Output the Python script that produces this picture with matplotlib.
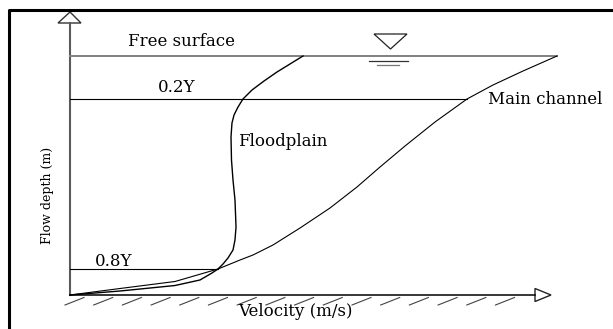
import matplotlib
matplotlib.use("Agg")
import matplotlib.pyplot as plt
from matplotlib.patches import Polygon

# ---- data (normalised velocity v, normalised depth d: bed=0, free surface=1) ----
main_v = [0.0, 0.1027, 0.2156, 0.3039, 0.3491, 0.3758, 0.4168, 0.4723, 0.5339,
          0.5893, 0.6366, 0.6879, 0.7495, 0.8152, 0.8686, 0.9302, 1.0]
main_d = [0.0, 0.0272, 0.0565, 0.1088, 0.1464, 0.1674, 0.2092, 0.2803, 0.3640,
          0.4519, 0.5356, 0.6234, 0.7238, 0.8201, 0.8787, 0.9372, 1.0]

flood_v = [0.0, 0.1027, 0.2156, 0.2669, 0.2916, 0.3039, 0.3142, 0.3244, 0.3347,
           0.3388, 0.3409, 0.3388, 0.3347, 0.3316, 0.3306, 0.3326, 0.3368,
           0.3450, 0.3552, 0.3737, 0.3984, 0.4251, 0.4517, 0.4784]
flood_d = [0.0, 0.0167, 0.0397, 0.0628, 0.0921, 0.1088, 0.1297, 0.1548, 0.1883,
           0.2301, 0.2845, 0.3975, 0.4812, 0.5649, 0.6611, 0.7197, 0.7531,
           0.7866, 0.8201, 0.8577, 0.8954, 0.9331, 0.9665, 1.0]

level_names = ["Free surface", "0.2Y", "0.8Y"]
level_depth = [1.0, 0.8201, 0.1088]
level_end_v = [1.0, 0.8152, 0.3039]

W, H = 613, 329
fig = plt.figure(figsize=(W / 100, H / 100), dpi=100)

# pixel-space axes for decorations
pax = fig.add_axes([0, 0, 1, 1])
pax.set_xlim(0, W)
pax.set_ylim(H, 0)
pax.axis("off")

# data axes aligned with the drawing (v=0 at x=70px, v=1 at x=557px; d=0 at y=295px, d=1 at y=56px)
ax = fig.add_axes([0, 0, 1, 1])
ax.patch.set_alpha(0)
ax.set_xlim(-70 / 487, 543 / 487)
ax.set_ylim(-34 / 239, 295 / 239)
ax.axis("off")

serif = "DejaVu Serif"
fs = 12

# frame (left + top)
pax.plot([8.5, 8.5, W], [H, 10, 10], color="black", lw=2.2, solid_capstyle="butt")

# y axis with open arrow
pax.plot([70, 70], [295, 23], color="#5a5a5a", lw=1.5)
pax.add_patch(Polygon([[58, 23], [81, 23], [70, 12]], closed=True, fill=False,
                      edgecolor="#333333", lw=1.0))
# x axis with open arrow
pax.plot([70, 535], [295, 295], color="black", lw=1.1)
pax.add_patch(Polygon([[535, 288.5], [535, 301.5], [551, 295]], closed=True, fill=False,
                      edgecolor="#222222", lw=1.0))

# bed hatching
for k in range(16):
    x0 = 65 + 28.7 * k
    pax.plot([x0, x0 + 19], [305, 297.5], color="#444444", lw=0.8)

# water surface symbol
pax.add_patch(Polygon([[374, 34], [407, 34], [390.5, 49]], closed=True, fill=False,
                      edgecolor="#222222", lw=0.9))
pax.plot([369, 408], [61, 61], color="#333333", lw=0.9)
pax.plot([377, 399], [65, 65], color="#777777", lw=0.9)

# level lines
lcolors = ["#808080", "black", "black"]
lwidths = [1.4, 0.8, 0.8]
for dd, ve, c, lw in zip(level_depth, level_end_v, lcolors, lwidths):
    ax.plot([0, ve], [dd, dd], color=c, lw=lw)

# velocity profiles
ax.plot(main_v, main_d, color="black", lw=0.8, solid_joinstyle="round")
ax.plot(flood_v, flood_d, color="black", lw=1.0, solid_joinstyle="round")

# labels
pax.text(181, 42, level_names[0], fontsize=fs, family=serif, ha="center", va="center")
pax.text(177, 88, level_names[1], fontsize=fs, family=serif, ha="center", va="center")
pax.text(114, 261, level_names[2], fontsize=fs, family=serif, ha="center", va="center")
pax.text(238, 142, "Floodplain", fontsize=fs, family=serif, ha="left", va="center")
pax.text(488, 99, "Main channel", fontsize=fs, family=serif, ha="left", va="center")
pax.text(295, 311, "Velocity (m/s)", fontsize=fs, family=serif, ha="center", va="center")
pax.text(47, 195, "Flow depth (m)", fontsize=9, family=serif, ha="center", va="center",
         rotation=90)

fig.savefig("out.png", dpi=100)
